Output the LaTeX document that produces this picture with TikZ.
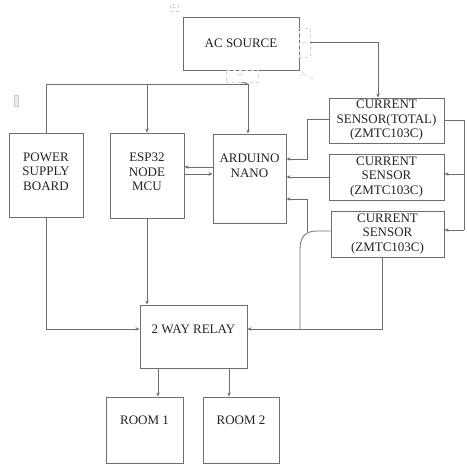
\documentclass[tikz,border=0pt]{standalone}
\usepackage{fontspec}
\setmainfont{Liberation Serif}
\usetikzlibrary{arrows.meta,calc}
\definecolor{ln}{RGB}{110,110,110}
\definecolor{tx}{RGB}{35,35,35}
\tikzset{
  box/.style={draw=ln,line width=0.9pt,inner sep=0pt},
  lbl/.style={text=tx,align=center,inner sep=0pt,font=\fontsize{13}{14.5}\selectfont},
  wire/.style={draw=ln,line width=0.8pt},
  arr/.style={wire,-{Stealth[length=4pt,width=3.5pt]}},
  handle/.style={draw=gray!35,dashed,line width=0.4pt,inner sep=0pt},
}
\begin{document}
\begin{tikzpicture}[x=1pt,y=-1pt]
\useasboundingbox (0,0) rectangle (467,465);
% boxes
\node[box,minimum width=116pt,minimum height=53pt] (ac) at (241,43.5) {};
\node[lbl] (tac) at (241,43) {AC SOURCE};
\node[box,minimum width=74pt,minimum height=84pt] (psb) at (46,175) {};
\node[lbl] (tpsb) at (46,171.5) {POWER\\SUPPLY\\BOARD};
\node[box,minimum width=74pt,minimum height=85pt] (esp) at (147,175.5) {};
\node[lbl] (tesp) at (147,172) {ESP32\\NODE\\MCU};
\node[box,minimum width=73pt,minimum height=89pt] (ard) at (249.5,178.5) {};
\node[lbl] (tard) at (249.5,166) {ARDUINO\\NANO};
\node[box,minimum width=115pt,minimum height=45pt] (s1) at (386.5,120.5) {};
\node[lbl] (ts1) at (386.5,120.5) {CURRENT\\SENSOR(TOTAL)\\(ZMTC103C)};
\node[box,minimum width=115pt,minimum height=46pt] (s2) at (386.5,177) {};
\node[lbl] (ts2) at (386.5,177) {CURRENT\\SENSOR\\(ZMTC103C)};
\node[box,minimum width=113pt,minimum height=46pt] (s3) at (387.5,234) {};
\node[lbl] (ts3) at (387.5,234) {CURRENT\\SENSOR\\(ZMTC103C)};
\node[box,minimum width=107pt,minimum height=63pt] (rel) at (193.5,336.5) {};
\node[lbl] (trel) at (193.5,329) {2 WAY RELAY};
\node[box,minimum width=77pt,minimum height=66pt] (r1) at (144.5,430) {};
\node[lbl] (tr1) at (144.5,420) {ROOM 1};
\node[box,minimum width=76pt,minimum height=66pt] (r2) at (241,430) {};
\node[lbl] (tr2) at (241,420) {ROOM 2};
% editing handles (as shown)
\node[handle,minimum width=11pt,minimum height=29pt] (hR) at (304.5,42.5) {};
\node[handle,minimum width=32pt,minimum height=12pt] (hB) at (242,76) {};
\node[text=gray!60,inner sep=0pt,font=\fontsize{5}{5}\selectfont] (hRs) at (304.5,43) {$\diamond$};
\node[text=gray!60,inner sep=0pt,font=\fontsize{5}{5}\selectfont] (hBs) at (240,76) {$\leftrightarrow$};
\node[text=gray!60,inner sep=0pt,font=\fontsize{6}{6}\selectfont] (hA) at (307,76) {$\triangle_{\scriptscriptstyle\searrow}$};
\node[handle,text=gray!55,inner sep=1pt,font=\fontsize{7}{7}\selectfont] (cross) at (174,8) {$+$};
\node[draw=gray!40,fill=gray!15,minimum width=4pt,minimum height=11pt,inner sep=0pt] (anch) at (16,101) {};
% coordinates
\coordinate (J1) at (248,84);
\coordinate (c1) at (307,119);
\coordinate (c2) at (307,159);
\coordinate (c3) at (307,199);
\coordinate (c4) at (307,232);
\coordinate (c5) at (317,231);
\coordinate (c6) at (300,250);
\coordinate (c7) at (300,329);
\coordinate (c8) at (382,329);
\coordinate (rb1) at (464,120);
\coordinate (rb2) at (464,174);
\coordinate (rb3) at (464,230);
\coordinate (y167) at (0,167);
\coordinate (y174) at (0,174);
\coordinate (x158) at (158,0);
\coordinate (x229) at (229,0);
\coordinate (x378) at (378,0);
% connectors
\draw[arr] (hR.east) -| (x378 |- s1.north);
\draw[wire] (hB.south) -- (J1);
\draw[arr] (J1) -- (J1 |- ard.north);
\draw[wire] (J1) -| (psb.north);
\draw[arr] (J1 -| esp.north) -- (esp.north);
\draw[arr] (ard.west |- y167) -- (esp.east |- y167);
\draw[arr] (esp.east |- y174) -- (ard.west |- y174);
\draw[arr] (s1.west |- c1) -- (c1) -- (c2) -- (ard.east |- c2);
\draw[arr] (s2.west) -- (s2.west -| ard.east);
\draw[arr] (c4) -- (c3) -- (ard.east |- c3);
\draw[wire] (s3.west |- c5) -- (c5) .. controls (304,231) and (300,238) .. (c6) -- (c7);
\draw[arr] (c8 |- s3.south) -- (c8) -- (rel.east |- c8);
\draw[wire] (s1.east |- rb1) -- (rb1) -- (rb3);
\draw[arr] (rb2) -- (s2.east |- rb2);
\draw[arr] (rb3) -- (s3.east |- rb3);
\draw[arr] (psb.south) |- (rel.west |- c8);
\draw[arr] (esp.south) -- (esp.south |- rel.north);
\draw[arr] (x158 |- rel.south) -- (x158 |- r1.north);
\draw[arr] (x229 |- rel.south) -- (x229 |- r2.north);
\end{tikzpicture}
\end{document}
